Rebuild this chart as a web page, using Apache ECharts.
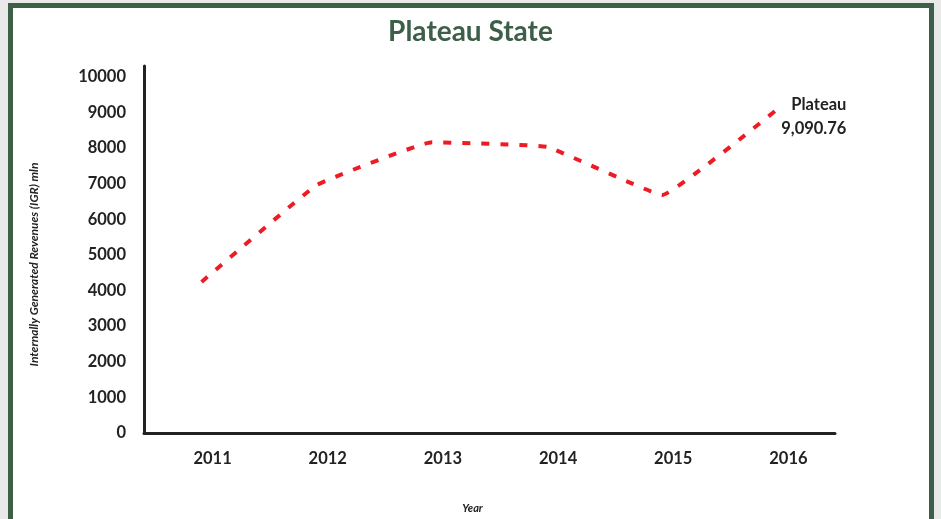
<!DOCTYPE html>
<html>
<head>
<meta charset="utf-8">
<title>Plateau State</title>
<style>
  html, body { margin: 0; padding: 0; background: #e9e9e9; }
  #frame {
    position: absolute; left: 8px; top: 3px; width: 916px; height: 540px;
    border: 5px solid #3d5f47; background: #fff;
  }
  #main { position: absolute; left: -13px; top: -8px; width: 941px; height: 519px; }
</style>
</head>
<body>
<div id="frame"><div id="main"></div></div>
<script src="https://cdn.jsdelivr.net/npm/echarts@6/dist/echarts.min.js"></script>
<script>
var years = ['2011', '2012', '2013', '2014', '2015', '2016'];
var igr = [4240, 6960, 8160, 8030, 6680, 9090.76];
var yTicks = [0, 1000, 2000, 3000, 4000, 5000, 6000, 7000, 8000, 9000, 10000];
var seriesName = 'Plateau';

var myChart = echarts.init(document.getElementById('main'));
var font = 'Lato, "Noto Sans", sans-serif';

option = {
    animation: false,
    title: {
        text: 'Plateau State',
        left: 'center',
        top: 13,
        textStyle: { fontFamily: font, fontSize: 28, fontWeight: 'bold', color: '#3d5f47' }
    },
    grid: { left: 144, right: 106, top: 66, bottom: 86, containLabel: false },
    xAxis: {
        type: 'category',
        data: years,
        name: 'Year',
        nameLocation: 'middle',
        nameGap: 70,
        nameTextStyle: {
            fontFamily: font, fontSize: 11, fontWeight: 'bold', fontStyle: 'italic', color: '#222',
            padding: [0, 34, 0, 0]
        },
        axisLine: { lineStyle: { color: '#222', width: 3 } },
        axisTick: { show: false },
        axisLabel: {
            margin: 17, fontFamily: font, fontSize: 16.5, fontWeight: 'bold', color: '#222',
            padding: [0, 0, 0, 22]
        }
    },
    yAxis: {
        type: 'value',
        min: yTicks[0],
        max: 10300,
        interval: 1000,
        name: 'Internally Generated Revenues (IGR) mln',
        nameLocation: 'middle',
        nameGap: 104,
        nameTextStyle: {
            fontFamily: font, fontSize: 12, fontWeight: 'bold', fontStyle: 'italic', color: '#222',
            padding: [0, 30, 0, 0]
        },
        axisLine: { show: true, lineStyle: { color: '#222', width: 3 } },
        axisTick: { show: false },
        splitLine: { show: false },
        axisLabel: {
            margin: 18, fontFamily: font, fontSize: 16.5, fontWeight: 'bold', color: '#222',
            showMaxLabel: false,
            formatter: function (v) { return String(v); }
        }
    },
    series: [{
        name: seriesName,
        type: 'line',
        data: igr,
        smooth: 0.08,
        symbol: 'none',
        lineStyle: { color: '#ed1c24', width: 4, type: [8, 11] },
        endLabel: {
            show: true,
            formatter: function (p) {
                return p.seriesName + '\n' + echarts.format.addCommas(p.value.toFixed(2));
            },
            align: 'right',
            verticalAlign: 'middle',
            offset: [61, 8],
            lineHeight: 24,
            fontFamily: font, fontSize: 16.5, fontWeight: 'bold', color: '#222'
        }
    }]
};
myChart.setOption(option);
</script>
</body>
</html>
